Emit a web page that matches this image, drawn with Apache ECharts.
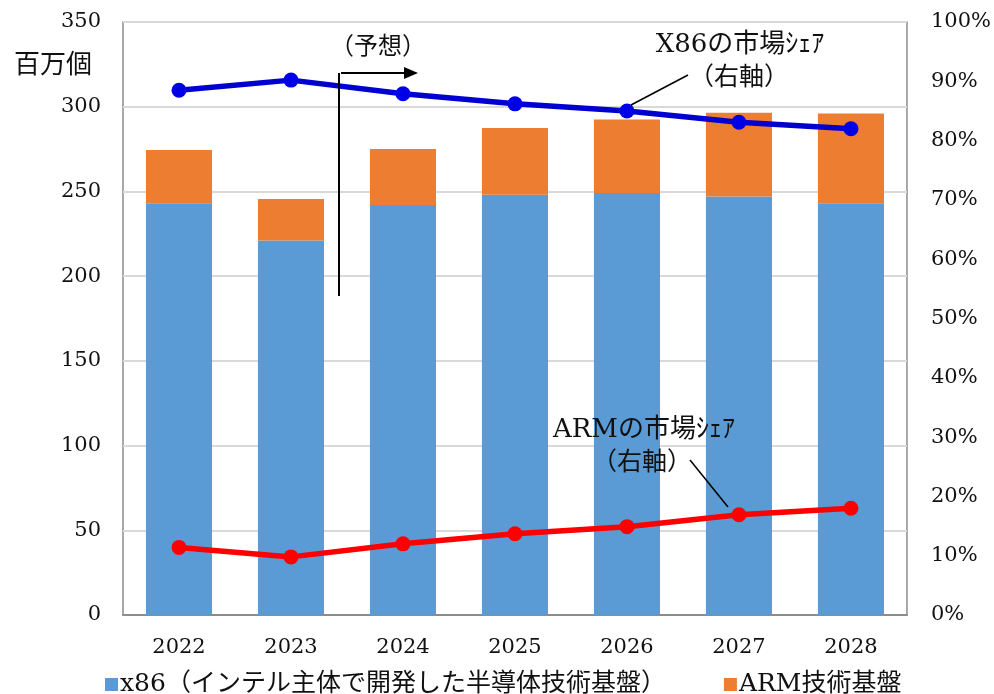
<!DOCTYPE html>
<html><head><meta charset="utf-8">
<script src="https://cdn.jsdelivr.net/npm/echarts@6/dist/echarts.min.js"></script>
<style>html,body{margin:0;padding:0;background:#fff}#c{width:994px;height:694px}</style>
</head><body><div id="c"></div>
<script>
const years = ['2022','2023','2024','2025','2026','2027','2028'];
const x86Units = [243, 221, 242, 248, 249, 247, 243];
const armUnits = [31.5, 24.5, 33, 39.5, 43.5, 49.5, 53];
const x86Share = [88.5, 90.2, 87.9, 86.2, 85.0, 83.1, 82.0];
const armShare = [11.4, 9.8, 12.0, 13.7, 14.9, 16.9, 18.0];
const leftTicks = [0, 50, 100, 150, 200, 250, 300, 350];
const FF = "'DejaVu Serif', 'Noto Sans CJK JP', serif";
const chart = echarts.init(document.getElementById('c'));
chart.setOption({
  animation: false,
  backgroundColor: '#fff',
  textStyle: { fontFamily: FF },
  grid: { left: 123, right: 84, top: 22, bottom: 79, show: true, borderColor: '#8c8c8c', borderWidth: 1.5 },
  xAxis: {
    type: 'category', data: years,
    axisLine: { show: true, lineStyle: { color: '#8c8c8c', width: 2 } },
    axisTick: { show: false },
    axisLabel: { fontSize: 21, color: '#111', margin: 22, fontFamily: FF }
  },
  yAxis: [
    { type: 'value', min: leftTicks[0], max: leftTicks[leftTicks.length - 1], interval: 50,
      axisLine: { show: false }, axisTick: { show: false },
      axisLabel: { fontSize: 21, color: '#111', margin: 22, fontFamily: FF },
      splitLine: { lineStyle: { color: '#d9d9d9', width: 2 } } },
    { type: 'value', min: 0, max: 100, interval: 10,
      axisLine: { show: false }, axisTick: { show: false },
      axisLabel: { fontSize: 21, color: '#111', margin: 24, fontFamily: FF, formatter: '{value}%' },
      splitLine: { show: false } }
  ],
  legend: {
    data: ['x86（インテル主体で開発した半導体技術基盤）', 'ARM技術基盤'],
    left: 100, top: 667, itemWidth: 13, itemHeight: 13, itemGap: 58,
    icon: 'rect',
    textStyle: { fontSize: 25, color: '#111', fontFamily: FF, padding: [0, 0, 0, -3] }
  },
  series: [
    { name: 'x86（インテル主体で開発した半導体技術基盤）', type: 'bar', stack: 'u', data: x86Units,
      barWidth: '59%', itemStyle: { color: '#5b9bd5' } },
    { name: 'ARM技術基盤', type: 'bar', stack: 'u', data: armUnits,
      itemStyle: { color: '#ed7d31' } },
    { name: 'X86シェア', type: 'line', yAxisIndex: 1, data: x86Share, z: 5,
      symbol: 'circle', symbolSize: 15, lineStyle: { color: '#0000d0', width: 5.5 },
      itemStyle: { color: '#0000e6' } },
    { name: 'ARMシェア', type: 'line', yAxisIndex: 1, data: armShare, z: 5,
      symbol: 'circle', symbolSize: 15, lineStyle: { color: '#ff0000', width: 5.5 },
      itemStyle: { color: '#ff0000' } }
  ],
  graphic: { elements: [
    { type: 'text', z: 100, x: 53, y: 66, style: { text: '百万個', font: "26px " + FF, fill: '#111', align: 'center', verticalAlign: 'middle' } },
    { type: 'text', z: 100, x: 378, y: 48, style: { text: '（予想）', font: "24px " + FF, fill: '#111', align: 'center', verticalAlign: 'middle' } },
    { type: 'line', z: 100, shape: { x1: 339, y1: 73, x2: 339, y2: 296 }, style: { stroke: '#000', lineWidth: 2 } },
    { type: 'line', z: 100, shape: { x1: 341, y1: 73, x2: 405, y2: 73 }, style: { stroke: '#000', lineWidth: 2 } },
    { type: 'polygon', z: 100, shape: { points: [[404, 67], [418, 73], [404, 79]] }, style: { fill: '#000' } },
    { type: 'text', z: 100, x: 740, y: 45, style: { text: 'X86の市場ｼｪｱ', font: "26px " + FF, fill: '#111', align: 'center', verticalAlign: 'middle' } },
    { type: 'text', z: 100, x: 739, y: 78, style: { text: '（右軸）', font: "25px " + FF, fill: '#111', align: 'center', verticalAlign: 'middle' } },
    { type: 'line', z: 100, shape: { x1: 688, y1: 75, x2: 631, y2: 105 }, style: { stroke: '#000', lineWidth: 1.5 } },
    { type: 'text', z: 100, x: 644, y: 430, style: { text: 'ARMの市場ｼｪｱ', font: "26px " + FF, fill: '#111', align: 'center', verticalAlign: 'middle' } },
    { type: 'text', z: 100, x: 642, y: 463, style: { text: '（右軸）', font: "25px " + FF, fill: '#111', align: 'center', verticalAlign: 'middle' } },
    { type: 'line', z: 100, shape: { x1: 690, y1: 460, x2: 728, y2: 507 }, style: { stroke: '#000', lineWidth: 1.5 } }
  ] }
});
</script></body></html>
